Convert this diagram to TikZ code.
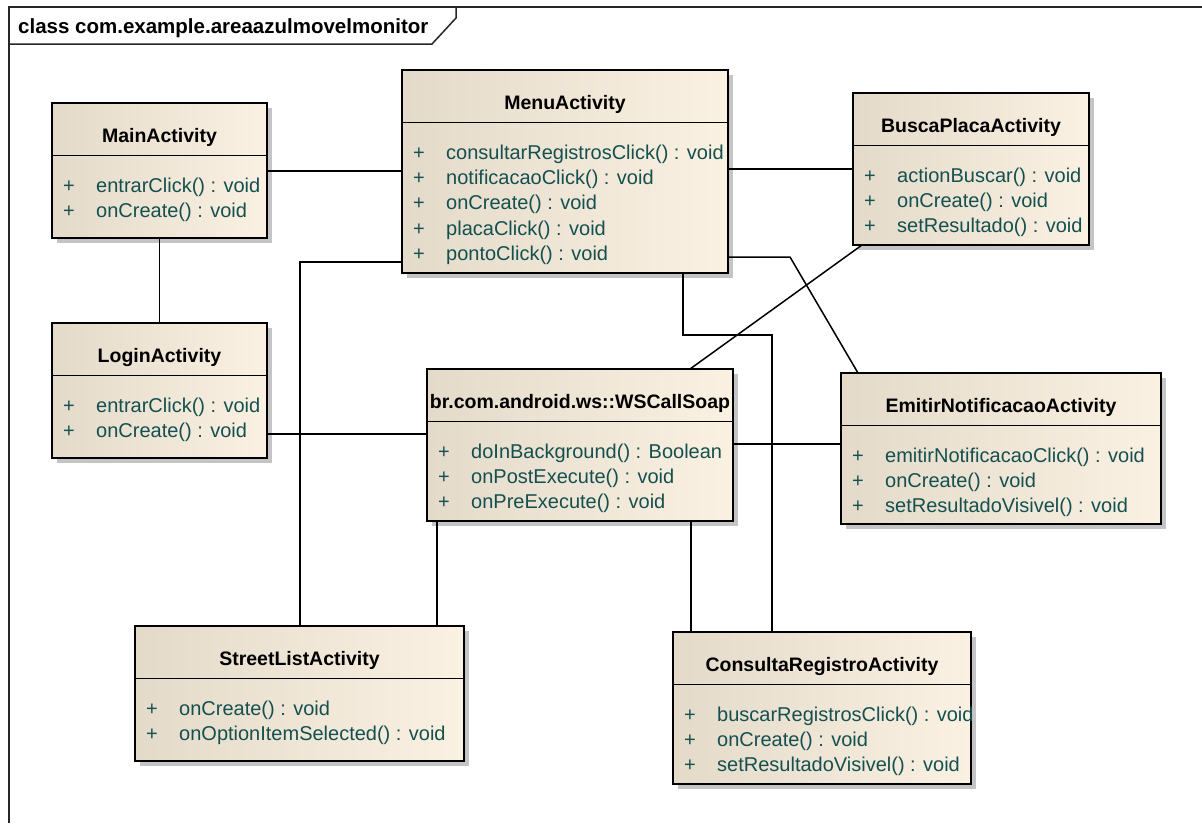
\documentclass[tikz,border=0pt]{standalone}
\usepackage{fontspec}
\setmainfont{Liberation Sans}
\definecolor{boxleft}{RGB}{227,218,202}
\definecolor{boxright}{RGB}{251,241,226}
\definecolor{shadowgray}{RGB}{196,196,196}
\definecolor{methodtext}{RGB}{20,80,80}
\tikzset{
  classbox/.style={draw=black, line width=2pt, left color=boxleft, right color=boxright,
    anchor=north west, inner sep=0pt, outer sep=0pt},
  classshadow/.style={fill=shadowgray},
  divider/.style={line width=1.6pt},
  classtitle/.style={anchor=base, inner sep=0pt, font=\fontsize{19.5}{23}\selectfont\bfseries},
  member/.style={anchor=base west, inner sep=0pt, text=methodtext, font=\fontsize{20}{24}\selectfont},
  visibility/.style={anchor=base, inner sep=0pt, text=methodtext, font=\fontsize{20}{24}\selectfont},
  conn/.style={line width=1.5pt},
  frameline/.style={line width=1.5pt, draw=black!85},
}
% \umlclass{name}{left}{top}{right}{bottom}{title}{operations}
\newcommand\umlclass[7]{%
  \fill[classshadow] (#2+5,#3+5) rectangle (#4+5,#5+5);
  \node[classbox, minimum width={#4-#2}, minimum height={#5-#3}] (#1) at (#2,#3) {};
  \node[classtitle] (#1-title) at ({(#2+#4)/2},#3+39.5) {#6};
  \draw[divider] (#2,#3+52.5) -- (#4,#3+52.5);
  \foreach \m [count=\i] in {#7} {
    \node[visibility] (#1-v\i) at (#2+17,{#3+64.3+25.2*\i}) {+};
    \node[member] (#1-m\i) at (#2+44,{#3+64.3+25.2*\i}) {\m};
  }%
}
\begin{document}
\begin{tikzpicture}[x=1pt,y=-1pt]
\useasboundingbox (0,0) rectangle (1202,823);
\fill[white] (0,0) rectangle (1202,823);

% diagram frame with its name tab
\draw[frameline] (9,823) -- (9,7) -- (1202,7);
\draw[frameline] (9,44) -- (432,44) -- (456,18) -- (456,7);
\node[anchor=base west, inner sep=0pt, font=\fontsize{20.5}{24}\selectfont\bfseries] (frametitle)
  at (18,33) {class com.example.areaazulmovelmonitor};

% classes
\umlclass{main}{52}{103}{267}{238}{MainActivity}{entrarClick() : void, onCreate() : void}
\umlclass{menu}{402}{70}{728}{273}{MenuActivity}{consultarRegistrosClick() : void, notificacaoClick() : void, onCreate() : void, placaClick() : void, pontoClick() : void}
\umlclass{busca}{853}{93}{1089}{245}{BuscaPlacaActivity}{actionBuscar() : void, onCreate() : void, setResultado() : void}
\umlclass{login}{52}{323}{267}{458}{LoginActivity}{entrarClick() : void, onCreate() : void}
\umlclass{ws}{427}{369}{733}{521}{br.com.android.ws::WSCallSoap}{doInBackground() : Boolean, onPostExecute() : void, onPreExecute() : void}
\umlclass{emitir}{841}{373}{1161}{524}{EmitirNotificacaoActivity}{emitirNotificacaoClick() : void, onCreate() : void, setResultadoVisivel() : void}
\umlclass{street}{135}{626}{464}{761}{StreetListActivity}{onCreate() : void, onOptionItemSelected() : void}
\umlclass{consulta}{673}{632}{971}{784}{ConsultaRegistroActivity}{buscarRegistrosClick() : void, onCreate() : void, setResultadoVisivel() : void}

% associations
\draw[conn] (main.east |- 0,171) -- (menu.west |- 0,171);
\draw[conn] (main.south) -- (login.north);
\draw[conn] (menu.east |- 0,169) -- (busca.west |- 0,169);
\draw[conn] (login.east |- 0,434) -- (ws.west |- 0,434);
\draw[conn] (menu.west |- 0,262) -| (street.north -| 300,0);
\draw[conn] (ws.south -| 437,0) -- (street.north -| 437,0);
\draw[conn] (busca.south -| 862,0) -- (ws.north -| 690,0);
\draw[conn] (menu.east |- 0,257) -- ++(62,0) -- (emitir.north -| 858,0);
\draw[conn] (menu.south -| 683,0) -- ++(0,62) -| (consulta.north -| 772,0);
\draw[conn] (ws.east |- 0,444) -- (emitir.west |- 0,444);
\draw[conn] (ws.south -| 691,0) -- (consulta.north -| 691,0);
\end{tikzpicture}
\end{document}
